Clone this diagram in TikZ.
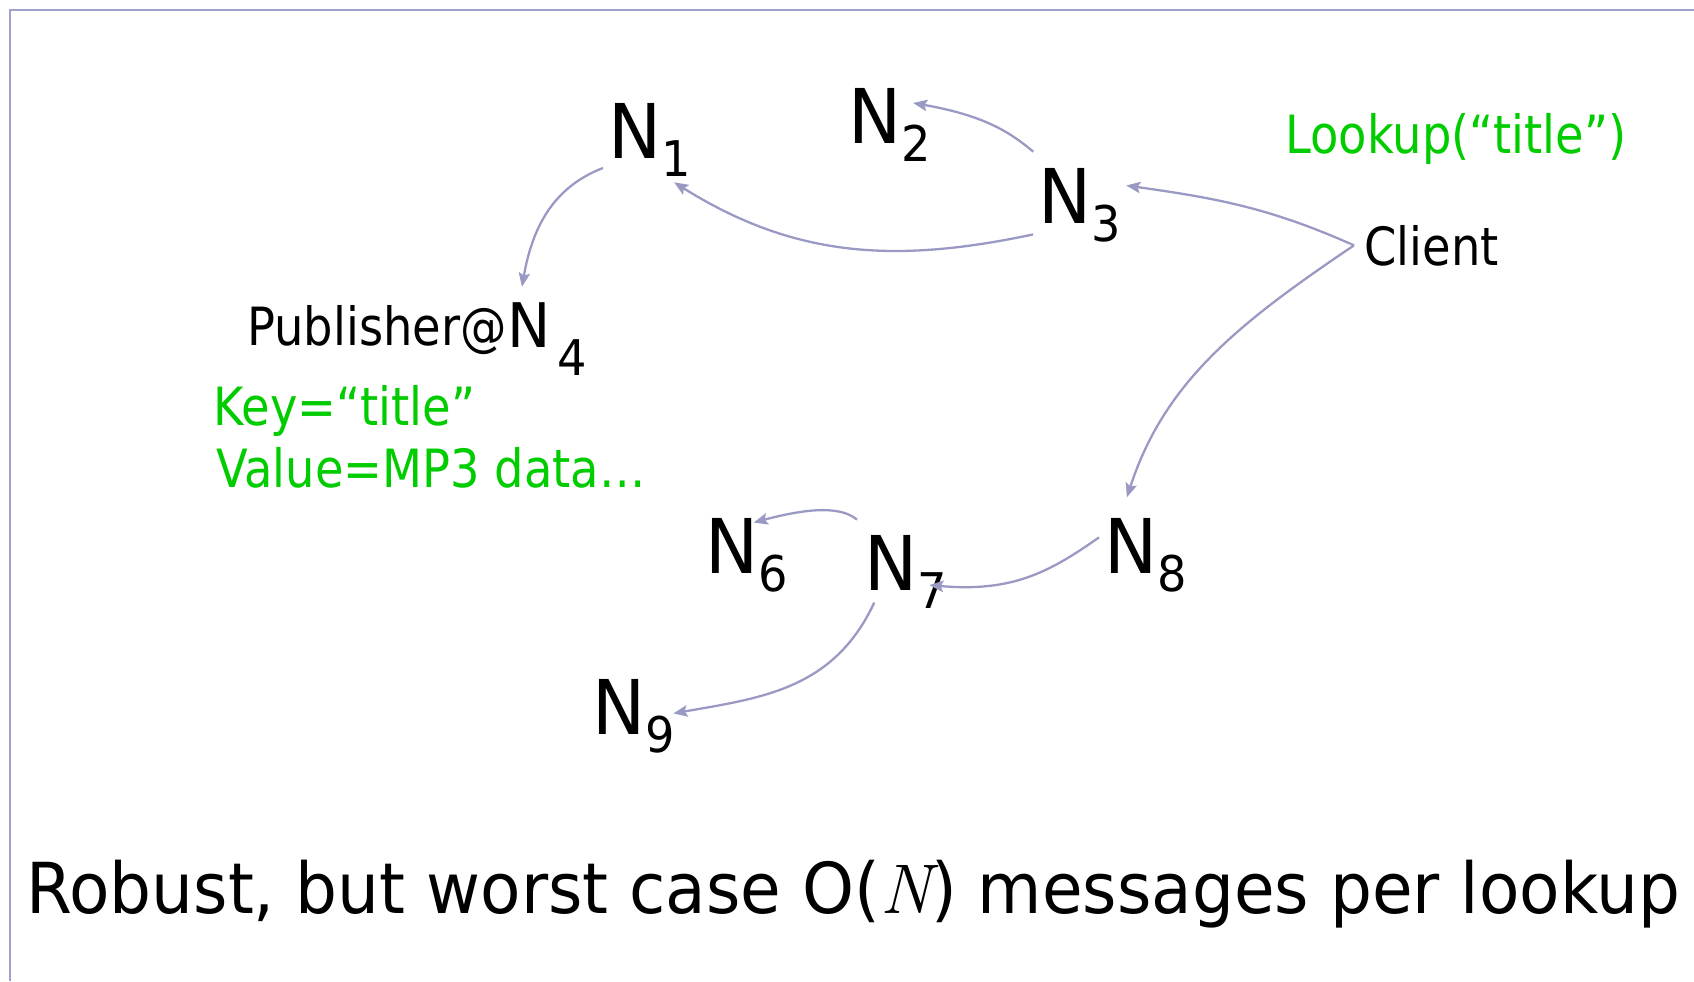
\documentclass[tikz,border=0pt]{standalone}
\usepackage{fontspec}
\setmainfont{DejaVu Sans}[FakeStretch=0.88]
\newfontfamily\bigsans{DejaVu Sans}[FakeStretch=0.94]
\newfontfamily\lmital{Latin Modern Roman}
\definecolor{linklav}{RGB}{153,153,196}
\definecolor{framelav}{RGB}{160,160,204}
\definecolor{keygreen}{RGB}{0,204,0}
\usetikzlibrary{arrows.meta,positioning}
\newcommand{\Nsub}[1]{{\fontsize{43}{43}\selectfont N}\raisebox{-10.8pt}{\fontsize{28}{28}\selectfont #1}}

\begin{document}
\begin{tikzpicture}[x=0.02cm, y=0.02cm,
  nnode/.style={anchor=base west, inner sep=0.1cm, font=\bigsans},
  lbl/.style={anchor=base west, inner sep=0pt, font=\fontsize{30}{36}\selectfont},
  grn/.style={lbl, text=keygreen},
  link/.style={draw=linklav, line width=1.3pt, -{Stealth[length=8pt,width=6.5pt,inset=1.5pt]}}]
  \useasboundingbox (0,0) rectangle (1694,-981);
  % slide frame
  \draw[framelav, line width=1.2pt] (1694,-10) -- (10,-10) -- (10,-981);

  % peers
  \node[nnode] (n1) at (603,-158) {\Nsub{1}};
  \node[nnode] (n2) at (843,-143) {\Nsub{2}};
  \node[nnode] (n3) at (1033,-223) {\Nsub{3}};
  \node[nnode, inner ysep=0.3cm] (n4) at (502,-347) {{\fontsize{35}{35}\selectfont N}\hspace{4pt}\raisebox{-16pt}{\fontsize{28}{28}\selectfont 4}};
  \node[nnode] (n6) at (700,-573) {\Nsub{6}};
  \node[nnode] (n7) at (859,-590) {\Nsub{7}};
  \node[nnode] (n8) at (1099,-573) {\Nsub{8}};
  \node[nnode] (n9) at (587,-734) {\Nsub{9}};

  % labels
  \node[lbl] (pub) at (247,-345) {Publisher@};
  \node[grn] (key) at (213,-425) {Key=“title”};
  \node[grn] (val) at (216,-487) {Value=MP3 data…};
  \node[grn] (lookup) at (1285,-153) {Lookup(“title”)};
  \node[lbl, inner sep=0.2cm] (client) at (1354,-265) {Client};
  \node[lbl, font=\bigsans\fontsize{40}{48}\selectfont] (summary) at (26,-913) {Robust, but worst case O({\lmital\itshape N}) messages per lookup};

  % query flooding
  \draw[link] (n1.211) to[out=201, in=80] (n4.116);
  \draw[link] (n3.212) to[out=192, in=328] (n1.300);
  \draw[link, shorten <=0.34cm, shorten >=-0.47cm] (n3.128) to[out=140, in=350] (n2.21);
  \draw[link] (client.west) to[out=156, in=352] (n3.23);
  \draw[link, shorten >=0.32cm] (client.west) to[out=214, in=72] (n8.119);
  \draw[link, shorten >=-0.46cm] (n8.159) to[out=215, in=355] (n7.342);
  \draw[link, shorten <=0.31cm, shorten >=-0.77cm] (n7.131) to[out=140, in=15] (n6.44);
  \draw[link, shorten <=-0.26cm, shorten >=-0.14cm] (n7.229) to[out=245, in=10] (n9.5);
\end{tikzpicture}
\end{document}
